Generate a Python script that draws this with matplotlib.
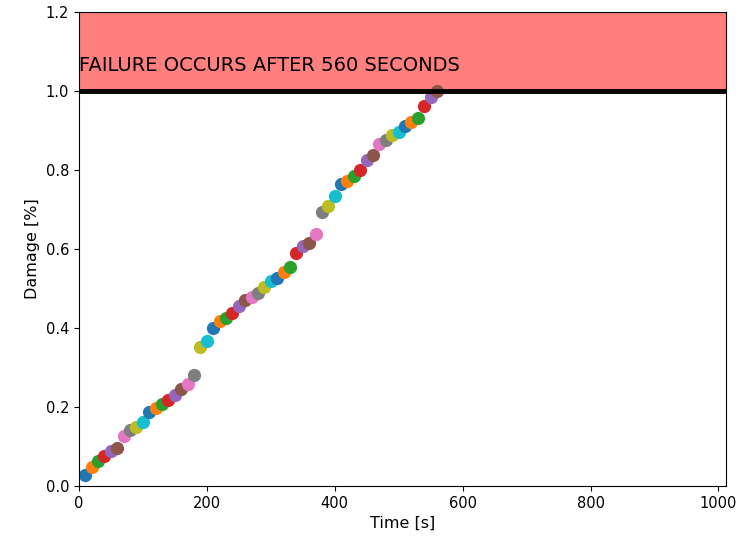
import matplotlib.pyplot as plt

# time steps (s) and accumulated damage
TIME = [10, 20, 30, 40, 50, 60, 70, 80, 90, 100,
        110, 120, 130, 140, 150, 160, 170, 180, 190, 200,
        210, 220, 230, 240, 250, 260, 270, 280, 290, 300,
        310, 320, 330, 340, 350, 360, 370, 380, 390, 400,
        410, 420, 430, 440, 450, 460, 470, 480, 490, 500,
        510, 520, 530, 540, 550, 560]
DAMAGE = [0.028, 0.048, 0.063, 0.076, 0.088, 0.097, 0.127, 0.142, 0.150, 0.162,
          0.187, 0.197, 0.208, 0.218, 0.230, 0.246, 0.259, 0.280, 0.352, 0.366,
          0.400, 0.418, 0.425, 0.438, 0.456, 0.470, 0.478, 0.489, 0.504, 0.518,
          0.527, 0.542, 0.555, 0.589, 0.606, 0.615, 0.637, 0.693, 0.708, 0.735,
          0.763, 0.773, 0.785, 0.800, 0.825, 0.838, 0.865, 0.875, 0.888, 0.895,
          0.912, 0.922, 0.932, 0.963, 0.985, 1.000]

FAIL_TIME = 560
THRESHOLD = 1.0

fig = plt.figure(figsize=(7.44, 5.41), dpi=100)
ax = fig.add_subplot(111)
fig.subplots_adjust(left=0.106, right=0.976, bottom=0.102, top=0.978)

# one call per point so every marker takes the next colour of the cycle
for t, d in zip(TIME, DAMAGE):
    ax.plot(t, d, "o", markersize=8.5)

ax.axhspan(THRESHOLD, 1.2, color="red", alpha=0.5, linewidth=0)
ax.axhline(THRESHOLD, color="black", linewidth=3.5)
ax.text(0, 1.05, f"FAILURE OCCURS AFTER {FAIL_TIME} SECONDS", fontsize=14)

ax.set_xlim(0, 1012)
ax.set_ylim(0, 1.2)
ax.set_xticks([0, 200, 400, 600, 800, 1000])
ax.tick_params(labelsize=10.5)
ax.set_xlabel("Time [s]", fontsize=11.5)
ax.set_ylabel("Damage [%]", fontsize=11.5)

fig.savefig("out.png", dpi=100)
